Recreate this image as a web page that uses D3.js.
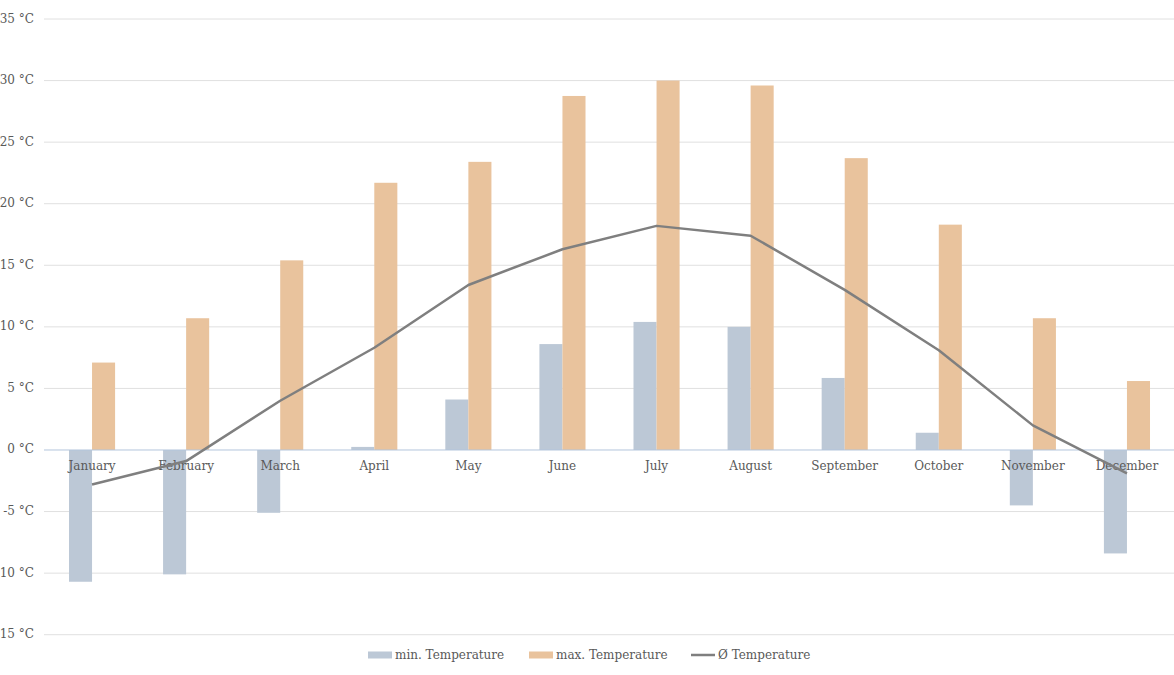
<!DOCTYPE html>
<html>
<head>
<meta charset="utf-8">
<script src="https://cdn.jsdelivr.net/npm/d3@7"></script>
<style>
  body { margin: 0; background: #fff; }
  text { font-family: "DejaVu Serif", serif; fill: #595959; }
</style>
</head>
<body>
<div id="canvas"></div>
<script>
"use strict";

let svgWidth = 1174;
let svgHeight = 675;

// Data
let months = ["January", "February", "March", "April", "May", "June",
    "July", "August", "September", "October", "November", "December"];
let minTemp = [-10.7, -10.1, -5.1, 0.25, 4.1, 8.6, 10.4, 10.0, 5.85, 1.4, -4.5, -8.4];
let maxTemp = [7.1, 10.7, 15.4, 21.7, 23.4, 28.75, 30.0, 29.6, 23.7, 18.3, 10.7, 5.6];
let avgTemp = [-2.8, -0.9, 4.0, 8.3, 13.4, 16.3, 18.2, 17.4, 13.0, 8.1, 2.0, -1.9];
let yTicks = [-15, -10, -5, 0, 5, 10, 15, 20, 25, 30, 35];

let colMin = "#bcc8d6";
let colMax = "#e9c39d";
let colAvg = "#7f7f7f";

let svg = d3.select("#canvas")
    .append("svg")
    .attr("width", svgWidth)
    .attr("height", svgHeight);

let xScale = d3.scaleBand()
    .domain(months)
    .range([45, 1174])
    .paddingInner(0)
    .paddingOuter(0);

let yScale = d3.scaleLinear()
    .domain([-15, 35])
    .range([634.7, 19]);

let barW = xScale.bandwidth() * 0.245;
let cx = m => xScale(m) + xScale.bandwidth() / 2;

// Gridlines
svg.selectAll("line.grid")
    .data(yTicks.filter(d => d !== 0))
    .join("line")
    .attr("class", "grid")
    .attr("x1", 44)
    .attr("x2", svgWidth)
    .attr("y1", d => yScale(d))
    .attr("y2", d => yScale(d))
    .attr("stroke", "#e0e0e0")
    .attr("stroke-width", 1);

// Y tick labels
svg.selectAll("text.ytick")
    .data(yTicks)
    .join("text")
    .attr("class", "ytick")
    .attr("x", 34)
    .attr("y", d => yScale(d))
    .attr("text-anchor", "end")
    .attr("dominant-baseline", "middle")
    .style("font-size", "12px")
    .text(d => d + " °C");

// Bars
svg.selectAll("rect.min")
    .data(months)
    .join("rect")
    .attr("class", "min")
    .attr("x", m => cx(m) - barW)
    .attr("width", barW)
    .attr("y", (m, i) => yScale(Math.max(0, minTemp[i])))
    .attr("height", (m, i) => Math.abs(yScale(minTemp[i]) - yScale(0)))
    .attr("fill", colMin);

svg.selectAll("rect.max")
    .data(months)
    .join("rect")
    .attr("class", "max")
    .attr("x", m => cx(m))
    .attr("width", barW)
    .attr("y", (m, i) => yScale(Math.max(0, maxTemp[i])))
    .attr("height", (m, i) => Math.abs(yScale(maxTemp[i]) - yScale(0)))
    .attr("fill", colMax);

// Zero line
svg.append("line")
    .attr("x1", 44)
    .attr("x2", svgWidth)
    .attr("y1", yScale(0))
    .attr("y2", yScale(0))
    .attr("stroke", "#b4c5dc")
    .attr("stroke-width", 1);

// Category labels
svg.selectAll("text.xlab")
    .data(months)
    .join("text")
    .attr("class", "xlab")
    .attr("x", m => cx(m))
    .attr("y", yScale(0) + 17)
    .attr("text-anchor", "middle")
    .attr("dominant-baseline", "middle")
    .style("font-size", "12px")
    .text(m => m);

// Average line
let line = d3.line()
    .x((d, i) => cx(months[i]))
    .y(d => yScale(d));

svg.append("path")
    .datum(avgTemp)
    .attr("d", line)
    .attr("fill", "none")
    .attr("stroke", colAvg)
    .attr("stroke-width", 2.5)
    .attr("stroke-linejoin", "round");

// Legend
let legendY = 655;
let legendItems = [
    {label: "min. Temperature", type: "rect", color: colMin, x: 368},
    {label: "max. Temperature", type: "rect", color: colMax, x: 529},
    {label: "Ø Temperature", type: "line", color: colAvg, x: 691}
];

legendItems.forEach(item => {
    if (item.type === "rect") {
        svg.append("rect")
            .attr("x", item.x)
            .attr("y", legendY - 3.5)
            .attr("width", 24)
            .attr("height", 7)
            .attr("fill", item.color);
    } else {
        svg.append("line")
            .attr("x1", item.x)
            .attr("x2", item.x + 24)
            .attr("y1", legendY)
            .attr("y2", legendY)
            .attr("stroke", item.color)
            .attr("stroke-width", 2.5);
    }
    svg.append("text")
        .attr("x", item.x + 27)
        .attr("y", legendY)
        .attr("dominant-baseline", "middle")
        .style("font-size", "12px")
        .text(item.label);
});
</script>
</body>
</html>
